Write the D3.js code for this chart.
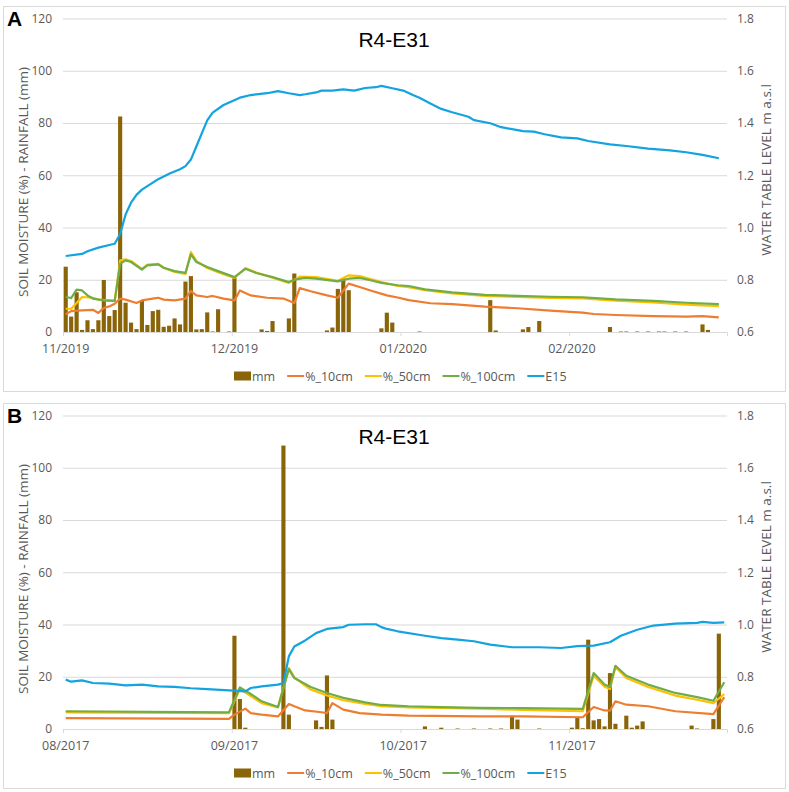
<!DOCTYPE html>
<html>
<head>
<meta charset="utf-8">
<script src="https://cdn.jsdelivr.net/npm/d3@7"></script>
<style>
  body { margin: 0; background: #fff; }
  text { font-family: "Open Sans", "Liberation Sans", Arial, sans-serif; }
</style>
</head>
<body>
<svg id="chart" width="789" height="792"></svg>
<script>
// ---- data (day index from first day of period) ----
const titles = ["R4-E31", "R4-E31"];
const panelLetters = ["A", "B"];
const startA = new Date(2019, 10, 1), endA = new Date(2020, 2, 2);   // 121 days
const startB = new Date(2017, 7, 1),  endB = new Date(2017, 11, 1);  // 122 days
const tickDaysA = [0, 31, 62, 93];
const tickLabelsA = ["11/2019", "12/2019", "01/2020", "02/2020"];
const tickDaysB = [0, 31, 62, 93];
const tickLabelsB = ["08/2017", "09/2017", "10/2017", "11/2017"];
const leftTicks = [0, 20, 40, 60, 80, 100, 120];
const rightTicks = [0.6, 0.8, 1.0, 1.2, 1.4, 1.6, 1.8];
const seriesNames = ["mm", "%_10cm", "%_50cm", "%_100cm", "E15"];

// rainfall mm [day, value]
const rainA = [[0,25],[1,5.9],[2,15.2],[3,0.8],[4,4.5],[5,1.1],[6,4.5],[7,19.9],[8,6.1],[9,8.4],
  [10,82.5],[11,11.2],[12,3.6],[13,1.1],[14,11.9],[15,2.7],[16,8.0],[17,8.5],[18,2.0],[19,2.4],
  [20,5.2],[21,2.9],[22,19.3],[23,21.4],[24,1.0],[25,1.1],[26,7.5],[27,0.2],[28,8.7],[30,0.2],
  [31,20.8],[36,1.0],[37,0.4],[38,4.2],[41,5.2],[42,22.4],[48,0.6],[49,1.7],[50,16.5],[51,20.5],
  [52,16],[58,1.4],[59,7.4],[60,3.6],[65,0.2],[78,12.2],[79,0.6],[84,1.0],[85,1.9],[87,4.2],
  [100,1.9],[102,0.2],[103,0.2],[105,0.2],[107,0.2],[109,0.2],[110,0.2],[112,0.2],[114,0.2],
  [117,2.9],[118,0.8]];
const rainB = [[31,35.7],[32,11.5],[33,0.5],[40,108.5],[41,5.5],[46,3.3],[47,0.8],[48,20.5],[49,3.6],
  [66,1.0],[69,0.5],[72,0.2],[75,0.2],[78,0.2],[80,0.2],[82,5.1],[83,3.6],[87,0.2],[93,0.5],
  [94,4.2],[95,0.3],[96,34.2],[97,3.3],[98,3.8],[99,1.0],[100,21.4],[101,2.0],[103,5.1],[104,0.5],
  [105,1.3],[106,2.9],[115,1.3],[116,0.2],[119,3.8],[120,36.5]];

// soil moisture % [day, value]
const m10A = [[0,6.8],[1,8],[3,8.3],[5,8.5],[6,7.3],[7,9.2],[8,9.8],[9,10.8],[10,12.8],[11,12.4],
  [13,11.1],[14,12.1],[16,12.8],[17,13.1],[18,12.4],[20,12.1],[22,12.8],[23,15.7],[24,14],[26,13.4],
  [27,13.8],[29,12.8],[31,12.1],[32,15.9],[34,14],[37,13.1],[40,12.8],[42,11.1],[43,16.8],[45,15.6],
  [48,14],[50,13.1],[52,18.5],[54,17.2],[56,15.9],[59,14],[61,13.2],[63,12.2],[67,11],[71,10.7],
  [77,9.7],[83,9.1],[89,8.2],[95,7.4],[97,6.9],[101,6.5],[108,6.1],[114,5.9],[117,6.1],[120,5.6]];
const m50A = [[0,8.9],[1,8.9],[2,11.1],[3,13.4],[5,13.1],[6,12.4],[9,11.9],[10,27.4],[11,27.8],[12,27.2],
  [14,24.2],[15,25.8],[17,26.1],[18,24.6],[20,23.0],[22,22.2],[23,30.6],[24,27.2],[26,24.5],[28,22.9],
  [31,20.7],[33,24.5],[35,22.8],[38,20.8],[41,18.8],[43,21.2],[46,21.0],[50,19.6],[52,21.7],[54,21.4],
  [56,20.3],[58,19.1],[61,17.6],[63,17.2],[66,16.0],[71,14.8],[77,13.8],[83,13.4],[89,13.1],[95,12.9],
  [101,12.0],[108,11.3],[114,10.5],[120,9.9]];
const m100A = [[0,13.4],[1,13],[2,16.2],[3,15.9],[4,14],[5,12.8],[7,12.1],[9,11.9],[10,26.1],[11,27.4],
  [12,26.8],[14,23.9],[15,25.5],[17,25.9],[18,24.6],[20,23.3],[22,22.6],[23,29.7],[24,26.8],[26,24.9],
  [28,23.3],[31,21],[33,24.2],[35,22.6],[38,21],[41,19.1],[42,20],[44,20.7],[46,20.4],[50,19.4],
  [52,20.4],[54,20.7],[56,19.8],[58,18.8],[61,17.9],[63,17.6],[66,16.3],[71,15.2],[77,14.2],[83,13.8],
  [89,13.5],[95,13.3],[101,12.5],[108,11.9],[114,11.2],[120,10.7]];
const m10B = [[0,4.2],[30,3.9],[31,5.5],[33,7.8],[34,6.1],[36,5.5],[39,4.8],[41,9.6],[42,8.7],[44,7.1],
  [47,6.4],[48,6.1],[49,9.9],[51,7.4],[54,6.1],[58,5.5],[63,5.1],[76,4.8],[84,4.8],[95,4.5],[97,8.4],
  [99,7.1],[100,7.0],[101,10.6],[103,9.3],[107,8.7],[112,6.8],[119,5.7],[121,12.2]];
const m50B = [[0,6.4],[30,6.1],[32,15.3],[34,12.6],[36,9.9],[39,8.3],[41,23.3],[42,19.8],[45,15.1],
  [48,12.8],[51,11.0],[55,9.6],[58,8.7],[63,8.3],[76,7.8],[84,7.3],[95,6.8],[97,20.4],[99,16.2],
  [100,15.3],[101,23.7],[103,19.5],[107,16.1],[112,12.8],[116,11.2],[119,9.9],[121,13.4]];
const m100B = [[0,6.8],[30,6.4],[32,15.9],[34,13.4],[36,10.6],[39,8.4],[41,22.9],[42,19.5],[45,16.1],
  [48,13.8],[51,11.9],[55,10.2],[58,9.2],[63,8.7],[69,8.4],[76,8.1],[84,8.0],[95,7.7],[97,21.4],
  [99,17],[100,16.1],[101,24.2],[103,20.4],[107,17],[112,13.8],[116,12.2],[119,10.8],[121,17.9]];

// water table level m a.s.l. [day, value]
const e15A = [[0,0.891],[3,0.899],[4,0.909],[6,0.923],[8,0.933],[9,0.938],[10,0.975],[11,1.05],[12,1.095],
  [13,1.125],[14,1.145],[16,1.172],[17,1.185],[19,1.206],[21,1.223],[22,1.235],[23,1.26],[24,1.31],
  [25,1.36],[26,1.41],[27,1.44],[29,1.469],[32,1.497],[34,1.507],[37,1.514],[39,1.522],[41,1.514],
  [43,1.507],[44,1.51],[46,1.517],[47,1.524],[49,1.524],[51,1.529],[53,1.524],[55,1.534],[57,1.537],
  [58,1.542],[60,1.533],[62,1.524],[64,1.505],[65,1.497],[67,1.475],[69,1.454],[71,1.441],[74,1.424],
  [75,1.411],[78,1.399],[80,1.384],[84,1.369],[86,1.367],[88,1.357],[91,1.345],[94,1.341],[96,1.331],
  [100,1.318],[103,1.312],[107,1.302],[111,1.295],[114,1.288],[117,1.278],[120,1.265]];
const e15B = [[0,0.789],[1,0.781],[3,0.786],[5,0.776],[8,0.774],[11,0.767],[14,0.770],[17,0.763],
  [20,0.761],[23,0.756],[26,0.753],[30,0.748],[33,0.744],[34,0.757],[36,0.763],[39,0.770],[40,0.776],
  [41,0.878],[42,0.916],[44,0.939],[46,0.967],[48,0.983],[51,0.990],[52,0.999],[55,1.001],[57,1.001],
  [58,0.990],[59,0.983],[61,0.974],[66,0.957],[69,0.948],[72,0.942],[75,0.936],[78,0.923],[82,0.913],
  [87,0.913],[91,0.910],[94,0.917],[97,0.919],[100,0.932],[102,0.957],[105,0.980],[108,0.996],
  [112,1.003],[116,1.006],[117,1.010],[119,1.006],[121,1.008]];

const colors = { mm: "#8a6408", m10: "#ed7d31", m50: "#ffc000", m100: "#70ad47", e15: "#13a3e0" };

const svg = d3.select("#chart");

function drawPanel(oy, p) {
  const g = svg.append("g").attr("transform", `translate(0,${oy})`);
  const left = 63, right = 727, top = 18.5, bottom = 332;
  const n = p.days.length;

  g.append("rect").attr("x", 3.5).attr("y", 6.5).attr("width", 782).attr("height", 385)
    .attr("fill", "#fff").attr("stroke", "#d9d9d9");

  const x = d3.scaleBand().domain(d3.range(n)).range([left, right])
    .paddingInner(0.24).paddingOuter(0.12);
  const xPos = d3.scaleLinear().domain([0, n]).range([left, right]);
  const yL = d3.scaleLinear().domain([0, 120]).range([bottom, top]);
  const yR = d3.scaleLinear().domain([0.6, 1.8]).range([bottom, top]);
  const cx = d => x(d[0]) + x.bandwidth() / 2;

  // gridlines + left axis
  const ga = g.append("g").attr("transform", `translate(${left},0)`)
    .call(d3.axisLeft(yL).tickValues(leftTicks).tickSize(-(right - left)).tickPadding(11));
  ga.select(".domain").remove();
  ga.selectAll("line").attr("stroke", "#d9d9d9");
  ga.selectAll("text").attr("fill", "#595959").style("font-size", "12px");

  const gr = g.append("g").attr("transform", `translate(${right},0)`)
    .call(d3.axisRight(yR).tickValues(rightTicks).tickSize(0).tickPadding(10).tickFormat(d3.format(".1f")));
  gr.select(".domain").remove();
  gr.selectAll("text").attr("fill", "#595959").style("font-size", "12px");

  // x axis ticks at category boundaries, labels under category
  const gx = g.append("g").attr("transform", `translate(0,${bottom})`)
    .call(d3.axisBottom(xPos).tickValues(p.tickDays).tickSize(4).tickFormat(""));
  gx.selectAll("line, path").attr("stroke", "#d9d9d9");
  const gxl = g.append("g").attr("transform", `translate(0,${bottom})`)
    .call(d3.axisBottom(x).tickValues(p.tickDays).tickSize(0).tickPadding(12)
      .tickFormat((d, i) => p.tickLabels[i]));
  gxl.select(".domain").remove();
  gxl.selectAll("text").attr("fill", "#595959").style("font-size", "12.5px");

  // rainfall bars
  g.append("g").selectAll("rect").data(p.rain).join("rect")
    .attr("x", d => x(d[0])).attr("width", x.bandwidth())
    .attr("y", d => yL(d[1])).attr("height", d => bottom - yL(d[1]))
    .attr("fill", colors.mm);

  const lineL = d3.line().x(cx).y(d => yL(d[1]));
  const lineR = d3.line().x(cx).y(d => yR(d[1]));
  [[p.m10, colors.m10], [p.m50, colors.m50], [p.m100, colors.m100]].forEach(([s, c]) => {
    g.append("path").datum(s).attr("d", lineL).attr("fill", "none")
      .attr("stroke", c).attr("stroke-width", 2.2).attr("stroke-linejoin", "round");
  });
  g.append("path").datum(p.e15).attr("d", lineR).attr("fill", "none")
    .attr("stroke", colors.e15).attr("stroke-width", 2.2).attr("stroke-linejoin", "round");

  // titles
  g.append("text").attr("x", 7).attr("y", 26).text(p.letter)
    .style("font-family", "'Liberation Sans', Arial, sans-serif")
    .style("font-size", "21px").style("font-weight", "bold");
  g.append("text").attr("x", 394).attr("y", 47).attr("text-anchor", "middle").text(p.title)
    .style("font-family", "'Liberation Sans', Arial, sans-serif").style("font-size", "21px");
  g.append("text").attr("transform", "translate(23,182) rotate(-90)")
    .attr("text-anchor", "middle").attr("dominant-baseline", "central")
    .attr("fill", "#595959").style("font-size", "13.5px")
    .text("SOIL MOISTURE (%) - RAINFALL (mm)");
  g.append("text").attr("transform", "translate(766,170) rotate(-90)")
    .attr("text-anchor", "middle").attr("dominant-baseline", "central")
    .attr("fill", "#595959").style("font-size", "13.5px")
    .text("WATER TABLE LEVEL m a.s.l");

  // legend
  const lg = g.append("g").attr("transform", "translate(0,376)");
  const keys = ["mm", "m10", "m50", "m100", "e15"];
  let lx = 234;
  seriesNames.forEach((name, i) => {
    const c = colors[keys[i]];
    if (i === 0) {
      lg.append("rect").attr("x", lx).attr("y", -4.5).attr("width", 17).attr("height", 9).attr("fill", c);
    } else {
      lg.append("line").attr("x1", lx).attr("x2", lx + 17).attr("stroke", c).attr("stroke-width", 2);
    }
    const t = lg.append("text").attr("x", lx + 18).attr("dominant-baseline", "central")
      .attr("fill", "#595959").style("font-size", "12.5px").text(name);
    lx += 18 + t.node().getComputedTextLength() + 12;
  });
}

drawPanel(0, {
  letter: panelLetters[0], title: titles[0], days: d3.timeDay.range(startA, endA),
  tickDays: tickDaysA, tickLabels: tickLabelsA,
  rain: rainA, m10: m10A, m50: m50A, m100: m100A, e15: e15A
});
drawPanel(397, {
  letter: panelLetters[1], title: titles[1], days: d3.timeDay.range(startB, endB),
  tickDays: tickDaysB, tickLabels: tickLabelsB,
  rain: rainB, m10: m10B, m50: m50B, m100: m100B, e15: e15B
});
</script>
</body>
</html>
